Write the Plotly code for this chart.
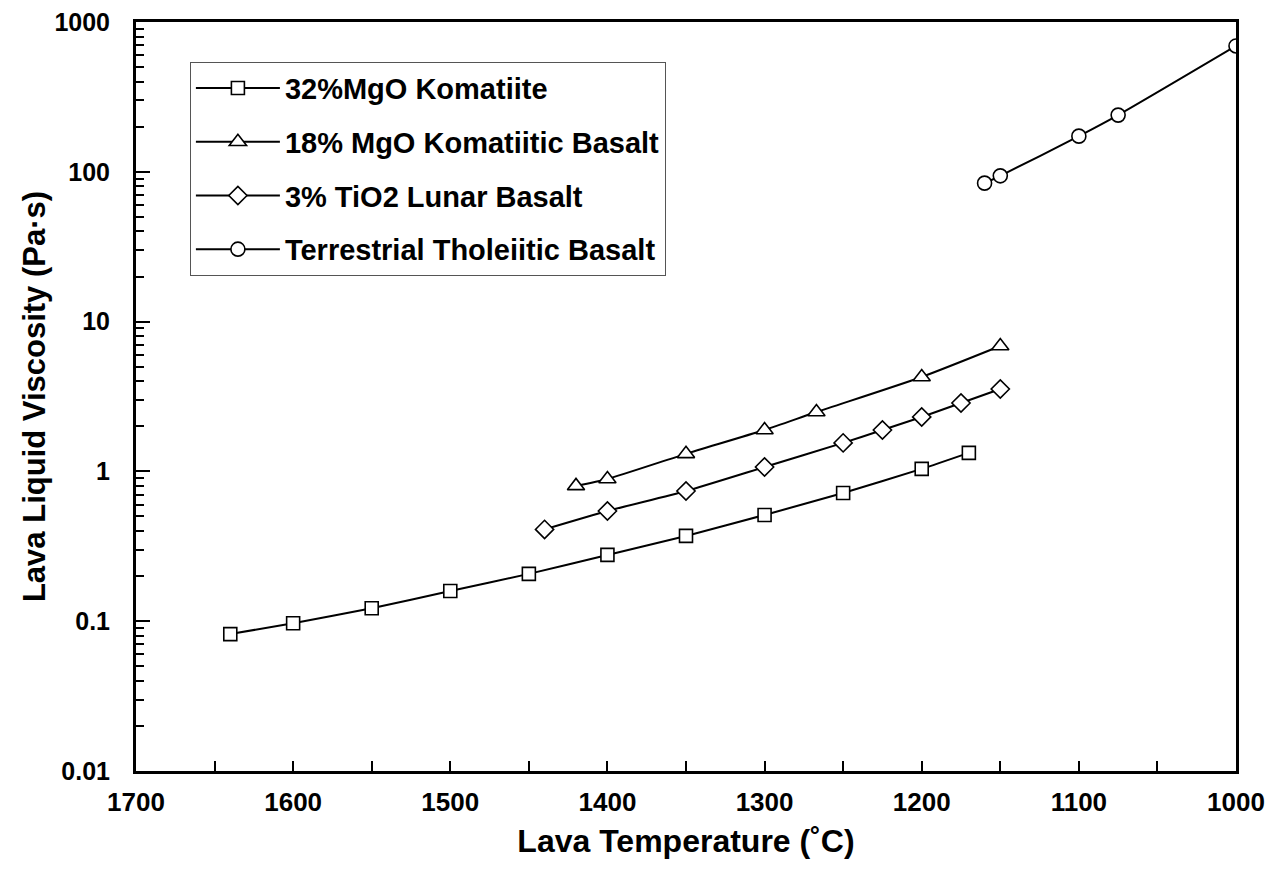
import plotly.graph_objects as go

# 32% MgO Komatiite
kom_T = [1640, 1600, 1550, 1500, 1450, 1400, 1350, 1300, 1250, 1200, 1170]
kom_v = [0.082, 0.097, 0.122, 0.159, 0.207, 0.277, 0.371, 0.512, 0.718, 1.04, 1.33]
# 18% MgO Komatiitic Basalt
kb_T = [1420, 1400, 1350, 1300, 1267, 1200, 1150]
kb_v = [0.80, 0.89, 1.31, 1.89, 2.49, 4.27, 6.87]
# 3% TiO2 Lunar Basalt
lb_T = [1440, 1400, 1350, 1300, 1250, 1225, 1200, 1175, 1150]
lb_v = [0.41, 0.544, 0.74, 1.07, 1.55, 1.89, 2.31, 2.86, 3.55]
# Terrestrial Tholeiitic Basalt
tb_T = [1160, 1150, 1100, 1075, 1000]
tb_v = [84, 94, 173, 239, 692]

y_tickvals = [0.01, 0.1, 1, 10, 100, 1000]
y_ticktext = ["0.01", "0.1", "1", "10", "100", "1000"]
x_tickvals = [1700, 1600, 1500, 1400, 1300, 1200, 1100, 1000]

series = [
    ("32%MgO Komatiite", kom_T, kom_v, "square", 13),
    ("18% MgO Komatiitic Basalt", kb_T, kb_v, "triangle-up", 15),
    ("3% TiO2 Lunar Basalt", lb_T, lb_v, "diamond", 14),
    ("Terrestrial Tholeiitic Basalt", tb_T, tb_v, "circle", 14),
]

fig = go.Figure()
for i, (name, xs, ys, sym, sz) in enumerate(series):
    fig.add_trace(go.Scatter(
        x=xs, y=ys, name=name, mode="lines+markers",
        legendgroup=f"g{i}",
        line=dict(color="black", width=2, shape="spline", smoothing=0.6),
        marker=dict(symbol=sym, size=sz, color="white",
                    line=dict(color="black", width=1.6)),
    ))

font_main = "Liberation Sans, Arial, sans-serif"

fig.update_layout(
    width=1281, height=872,
    margin=dict(l=128, r=53, t=14, b=109),
    paper_bgcolor="white", plot_bgcolor="white",
    font=dict(family=font_main, color="black"),
    showlegend=True,
    legend=dict(
        x=0.049, y=0.947, xanchor="left", yanchor="top",
        bgcolor="white", bordercolor="#555555", borderwidth=1,
        font=dict(family=font_main, size=29, color="black", weight="bold"),
        tracegroupgap=13, itemwidth=84,
    ),
    xaxis=dict(
        range=[1700, 1000], tickvals=x_tickvals, automargin=False,
        ticklabeloverflow="allow",
        ticks="inside", ticklen=10, tickwidth=2, tickcolor="black",
        minor=dict(ticks="inside", ticklen=10, tickwidth=2, dtick=50, tickcolor="black", showgrid=False),
        showline=True, linewidth=3, linecolor="black", mirror=True,
        showgrid=False, zeroline=False,
        ticklabelstandoff=6,
        tickfont=dict(size=26, weight="bold"),
        title=dict(text="Lava Temperature (˚C)", font=dict(size=32, weight="bold"), standoff=14),
    ),
    yaxis=dict(
        type="log", range=[-2, 3], tickvals=y_tickvals, ticktext=y_ticktext, automargin=False,
        ticklabeloverflow="allow",
        ticks="inside", ticklen=14, tickwidth=2, tickcolor="black",
        minor=dict(ticks="inside", ticklen=8, tickwidth=1.5, dtick="D1", tickcolor="black", showgrid=False),
        showline=True, linewidth=3, linecolor="black", mirror=True,
        showgrid=False, zeroline=False,
        ticklabelstandoff=18,
        tickfont=dict(size=25, weight="bold"),
        title=dict(text="Lava Liquid Viscosity (Pa·s)", font=dict(size=31, weight="bold"), standoff=0),
    ),
)

fig.write_html("out.html")
